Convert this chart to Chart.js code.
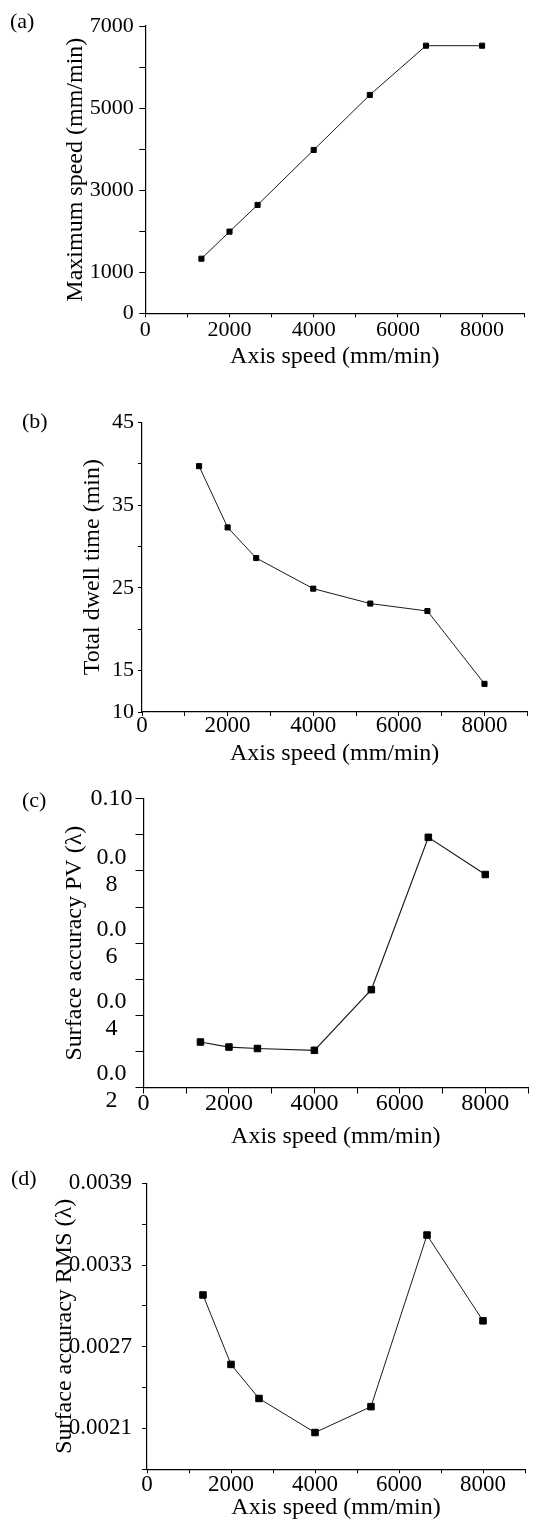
<!DOCTYPE html>
<html><head><meta charset="utf-8">
<script src="https://cdn.jsdelivr.net/npm/chart.js@4.4.1/dist/chart.umd.min.js"></script>
<style>
html,body{margin:0;padding:0;background:#fff;}
body{width:545px;height:1524px;position:relative;overflow:hidden;font-family:'Liberation Serif','Times New Roman',serif;}
canvas{position:absolute;left:0;}
.plab{position:absolute;font-size:22px;line-height:22px;color:#000;white-space:nowrap;}
</style></head><body>
<canvas id="ca" width="545" height="380" style="top:0px"></canvas>
<canvas id="cb" width="545" height="400" style="top:380px"></canvas>
<canvas id="cc" width="545" height="400" style="top:760px"></canvas>
<canvas id="cd" width="545" height="384" style="top:1140px"></canvas>
<div class="plab" style="left:10px;top:10px">(a)</div>
<div class="plab" style="left:22px;top:410px">(b)</div>
<div class="plab" style="left:22px;top:789px">(c)</div>
<div class="plab" style="left:11px;top:1167px">(d)</div>
<script>
// ---- data ----
const axisSpeed   = [1333, 2000, 2667, 4000, 5333, 6667, 8000];
const maxSpeed    = [1330, 1990, 2640, 3980, 5320, 6520, 6520];
const dwellTime   = [39.7, 32.3, 28.6, 24.9, 23.1, 22.2, 13.4];
const pvAccuracy  = [0.0326, 0.0312, 0.0308, 0.0303, 0.0471, 0.0893, 0.0790];
const rmsAccuracy = [0.00308, 0.00257, 0.00232, 0.00207, 0.00226, 0.00352, 0.00289];

const xTickValues = [0, 2000, 4000, 6000, 8000];
const yTicksA = [0, 1000, 3000, 5000, 7000];
const yTicksB = [10, 15, 25, 35, 45];
const yTicksC = [0.02, 0.04, 0.06, 0.08, 0.10];
const yTickTextC = [['0.0','2'], ['0.0','4'], ['0.0','6'], ['0.0','8'], '0.10'];
const yTicksD = [0.0021, 0.0027, 0.0033, 0.0039];
const yTickTextD = ['0.0021', '0.0027', '0.0033', '0.0039'];

const xTitle = 'Axis speed (mm/min)';
const yTitleA = 'Maximum speed (mm/min)';
const yTitleB = 'Total dwell time (min)';
const yTitleC = 'Surface accuracy PV (\u03BB)';
const yTitleD = 'Surface accuracy RMS (\u03BB)';

// ---- drawing ----
const FONT = "'Liberation Serif','Times New Roman',serif";
function labelFor(vals, texts, v, step) {
  for (let i = 0; i < vals.length; i++) {
    if (Math.abs(vals[i] - v) < step * 1e-3) return texts ? texts[i] : String(vals[i]);
  }
  return '';
}
function makePanel(p) {
  const cv = document.getElementById(p.id);
  const W = cv.width, H = cv.height;
  const pts = p.xs.map((x, i) => ({x: x, y: p.ys[i]}));
  new Chart(cv, {
    type: 'scatter',
    data: {datasets: [{
      data: pts, showLine: true, borderColor: '#1a1a1a', borderWidth: p.lw,
      pointStyle: 'rect', pointRadius: p.mr, pointHoverRadius: p.mr,
      pointBackgroundColor: '#000', pointBorderColor: '#000', pointBorderWidth: 1, tension: 0
    }]},
    options: {
      responsive: false, animation: false, devicePixelRatio: 1, events: [],
      layout: {padding: {left: 0, top: p.area.t, right: W - p.area.r, bottom: 0}},
      plugins: {legend: {display: false}, tooltip: {enabled: false}},
      scales: {
        x: {
          type: 'linear', min: 0, max: 9000,
          afterFit: (s) => { s.height = H - p.area.b; },
          ticks: {stepSize: 1000, autoSkip: false, maxRotation: 0, minRotation: 0, padding: p.xPad,
                  color: '#000', font: {family: FONT, size: p.xFont, lineHeight: 1.2},
                  callback: (v) => labelFor(xTickValues, null, v, 1000)},
          grid: {display: true, drawOnChartArea: false, drawTicks: true, tickLength: p.xTl, color: '#000', lineWidth: 1},
          border: {display: true, color: '#000', width: 1.2},
          title: {display: true, text: xTitle, color: '#000', font: {family: FONT, size: 24, lineHeight: 1.2},
                  padding: {top: 0, bottom: p.xTitlePadB}}
        },
        y: {
          type: 'linear', min: p.yMin, max: p.yMax,
          afterFit: (s) => { s.width = p.area.l; },
          ticks: {stepSize: p.yStep, autoSkip: false, padding: p.yPad, crossAlign: p.cross || 'near',
                  color: '#000', font: {family: FONT, size: p.yFont, lineHeight: p.yLh || 1.2},
                  callback: (v) => labelFor(p.yVals, p.yTexts, v, p.yStep)},
          grid: {display: true, drawOnChartArea: false, drawTicks: true, tickLength: p.yTl, color: '#000', lineWidth: 1},
          border: {display: true, color: '#000', width: 1.2},
          title: {display: true, text: p.yTitle, color: '#000', font: {family: FONT, size: 24, lineHeight: 1.2},
                  padding: {top: p.yTitlePadT, bottom: 0}}
        }
      }
    }
  });
}

makePanel({id: 'ca', xs: axisSpeed, ys: maxSpeed, area: {l: 145.3, r: 524.2, t: 26, b: 313.3},
  yMin: 0, yMax: 7000, yStep: 1000, yVals: yTicksA, yTexts: null, yTitle: yTitleA,
  xFont: 22, xTl: 4, xPad: 0, xTitlePadB: 8.6, yFont: 22, yTl: 6, yPad: 5.5, yTitlePadT: 61.3, mr: 3.6, lw: 1});

makePanel({id: 'cb', xs: axisSpeed, ys: dwellTime, area: {l: 142, r: 527.3, t: 42.3, b: 332},
  yMin: 10, yMax: 45, yStep: 5, yVals: yTicksB, yTexts: null, yTitle: yTitleB,
  xFont: 23, xTl: 4, xPad: -4, xTitlePadB: 11.6, yFont: 22, yTl: 4, yPad: 4, yTitlePadT: 78.4, mr: 3.6, lw: 1});

makePanel({id: 'cc', xs: axisSpeed, ys: pvAccuracy, area: {l: 143.5, r: 528, t: 38.7, b: 327.5},
  yMin: 0.02, yMax: 0.10, yStep: 0.01, yVals: yTicksC, yTexts: yTickTextC, yTitle: yTitleC,
  xFont: 24, xTl: 6, xPad: -4, xTitlePadB: 8.6, yFont: 24, yLh: 1.14, cross: 'center', yTl: 8, yPad: 3, yTitlePadT: 60.3, mr: 4.6, lw: 1.2});

makePanel({id: 'cd', xs: axisSpeed, ys: rmsAccuracy, area: {l: 147, r: 525, t: 43.3, b: 329.3},
  yMin: 0.0018, yMax: 0.0039, yStep: 0.0003, yVals: yTicksD, yTexts: yTickTextD, yTitle: yTitleD,
  xFont: 23, xTl: 4, xPad: -2, xTitlePadB: 1.6, yFont: 23, yTl: 5, yPad: 10, yTitlePadT: 50.6, mr: 4.6, lw: 1});
</script>
</body></html>
